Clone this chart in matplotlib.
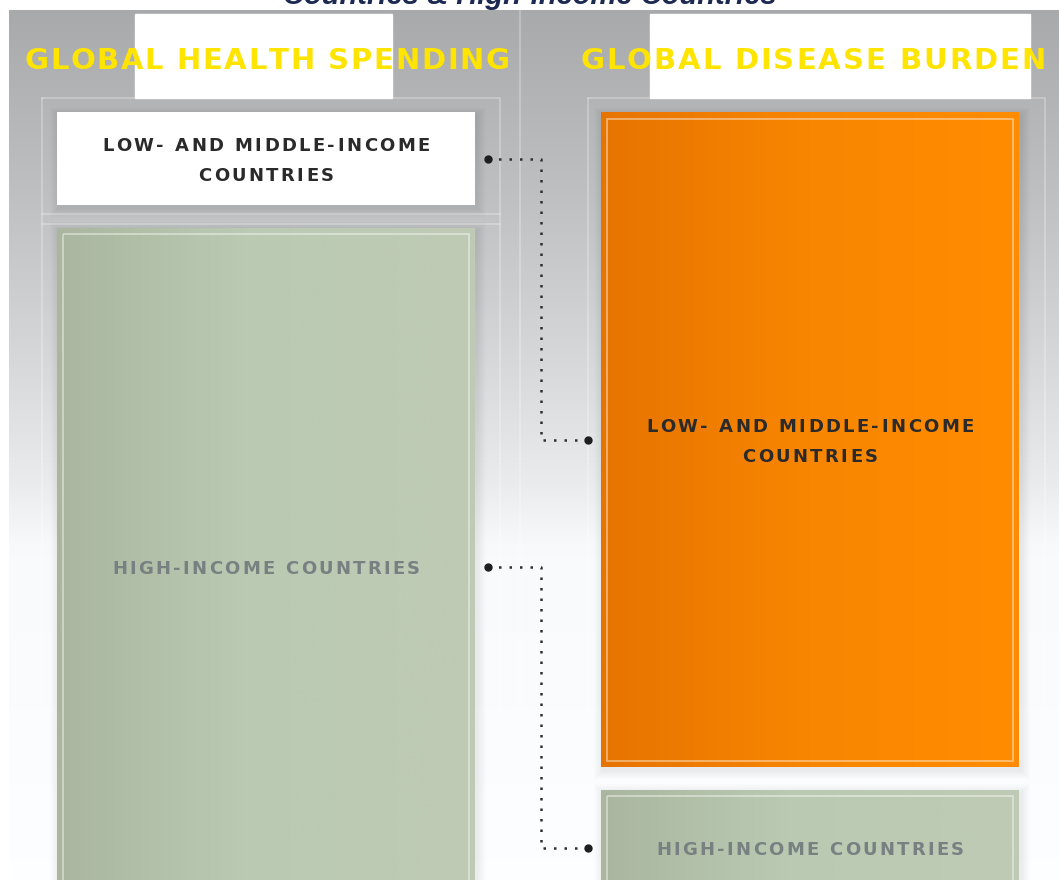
import matplotlib.pyplot as plt
import numpy as np
from matplotlib.patches import Rectangle
from matplotlib.font_manager import FontProperties, findfont, get_font

W, H = 1059, 880

title = "Countries & High-Income Countries"
columns = ["GLOBAL HEALTH SPENDING", "GLOBAL DISEASE BURDEN"]
groups = [["LOW- AND MIDDLE-INCOME", "COUNTRIES"], ["HIGH-INCOME COUNTRIES"]]
spending_share = [12, 88]   # % of global health spending
burden_share = [85, 15]     # % of global disease burden
shares = [spending_share, burden_share]

# layout (pixels)
col_x = [57, 601]
col_w = 418
top, gap, px_per_pct = 113, 23, 7.7
header_w = [485, 465]
line_w = {"LOW- AND MIDDLE-INCOME": 328, "COUNTRIES": 135, "HIGH-INCOME COUNTRIES": 308}

green_stops = [(0.0, "#aab69f"), (0.45, "#bacab2"), (1.0, "#bfcab5")]
orange_stops = [(0.0, "#e67400"), (0.5, "#f98600"), (1.0, "#ff8c00")]
white_stops = [(0.0, "#ffffff"), (1.0, "#ffffff")]
box_style = [[(white_stops, "#2a2a2a"), (green_stops, "#788082")],
             [(orange_stops, "#2a2a2a"), (green_stops, "#788082")]]


def stops_to_array(stops, n=256):
    t = np.linspace(0, 1, n)
    pos = [s[0] for s in stops]
    rgb = np.array([plt.matplotlib.colors.to_rgb(s[1]) for s in stops])
    return np.stack([np.interp(t, pos, rgb[:, k]) for k in range(3)], axis=-1)


def advances(s, prop):
    font = get_font(findfont(prop))
    font.set_size(prop.get_size_in_points(), 100)
    return [font.load_char(ord(c)).linearHoriAdvance / 65536 for c in s]


def spaced_text(ax, cx, base, s, width, prop, color, z=10):
    adv = advances(s, prop)
    track = (width - sum(adv)) / max(len(s) - 1, 1)
    x = cx - width / 2
    for c, a in zip(s, adv):
        ax.text(x, base, c, fontproperties=prop, color=color,
                ha="left", va="baseline", zorder=z)
        x += a + track


fig = plt.figure(figsize=(W / 100, H / 100), dpi=100)
ax = fig.add_axes([0, 0, 1, 1])

# background gradient
ys = np.array([0, 190, 340, 470, 540, 870])
vals = np.array([0.665, 0.755, 0.84, 0.92, 0.98, 0.997])
g = np.interp(np.linspace(0, 870, 400), ys, vals)
bg = np.stack([g - 0.004, g, g + 0.006], axis=-1).clip(0, 1)[:, None, :]
ax.imshow(bg, extent=(9, W, H, 10), aspect="auto", zorder=0)

# faint panel guides
guide = dict(color="white", alpha=0.3, lw=1.2, zorder=1)
ax.plot([520, 520], [10, H], **guide)
for x0, x1 in [(42, 500), (588, 1045)]:
    ax.plot([x0, x1, x1], [98, 98, H], **guide)
    ax.plot([x0, x0], [98, H], **guide)
ax.plot([42, 500], [214, 214], **guide)
ax.plot([42, 500], [224, 224], **guide)

# header plates and headers
ax.add_patch(Rectangle((135, 14), 257, 84, color="white", zorder=2))
ax.add_patch(Rectangle((650, 14), 380, 84, color="white", zorder=2))
hprop = FontProperties(family="DejaVu Sans", weight="bold", size=21)
for i, name in enumerate(columns):
    cx = col_x[i] + col_w / 2 + (1 if i == 0 else 3)
    spaced_text(ax, cx, 69, name, header_w[i], hprop, "#ffe400", z=3)

# title (cut off at the top edge)
ax.text(530, 4, title, fontfamily="Liberation Sans", fontweight="bold",
        fontstyle="italic", fontsize=21, color="#1c2a52",
        ha="center", va="baseline", zorder=3)

lprop = FontProperties(family="DejaVu Sans", weight="bold", size=13)
centers = []
for i, col in enumerate(shares):
    y = top
    cs = []
    for j, share in enumerate(col):
        h = share * px_per_pct
        x0 = col_x[i]
        # soft shadow
        for k in range(1, 10):
            ax.add_patch(Rectangle((x0 - k + 2, y - k + 3), col_w + 2 * k, h + 2 * k,
                                   color="black", alpha=0.009, lw=0, zorder=4))
        stops, tcol = box_style[i][j]
        ax.imshow(stops_to_array(stops)[None, :, :], extent=(x0, x0 + col_w, y + h, y),
                  aspect="auto", interpolation="bilinear", zorder=5)
        if stops is not white_stops:
            ax.add_patch(Rectangle((x0 + 6, y + 6), col_w - 12, h - 12, fill=False,
                                   ec="white", alpha=0.45, lw=1.3, zorder=6))
        cy = y + h / 2
        lines = groups[j]
        n = len(lines)
        for li, line in enumerate(lines):
            ly = cy + (li - (n - 1) / 2) * 30
            spaced_text(ax, x0 + col_w / 2, ly + 6.5, line, line_w[line], lprop, tcol)
        cs.append(cy)
        y += h + gap
    centers.append(cs)

# dotted connectors
xl, xm, xr = col_x[0] + col_w + 13, 541, col_x[1] - 13
for j in range(2):
    yl, yr = centers[0][j], centers[1][j]
    ax.plot([xl, xm, xm, xr], [yl, yl, yr, yr], color="#2e2e2e", lw=1.8,
            ls=(0, (1, 3.2)), zorder=7)
    ax.plot([xl, xr], [yl, yr], "o", color="#1e1e1e", ms=5, zorder=8)

ax.set_xlim(0, W)
ax.set_ylim(H, 0)
ax.axis("off")
fig.savefig("out.png", dpi=100)
